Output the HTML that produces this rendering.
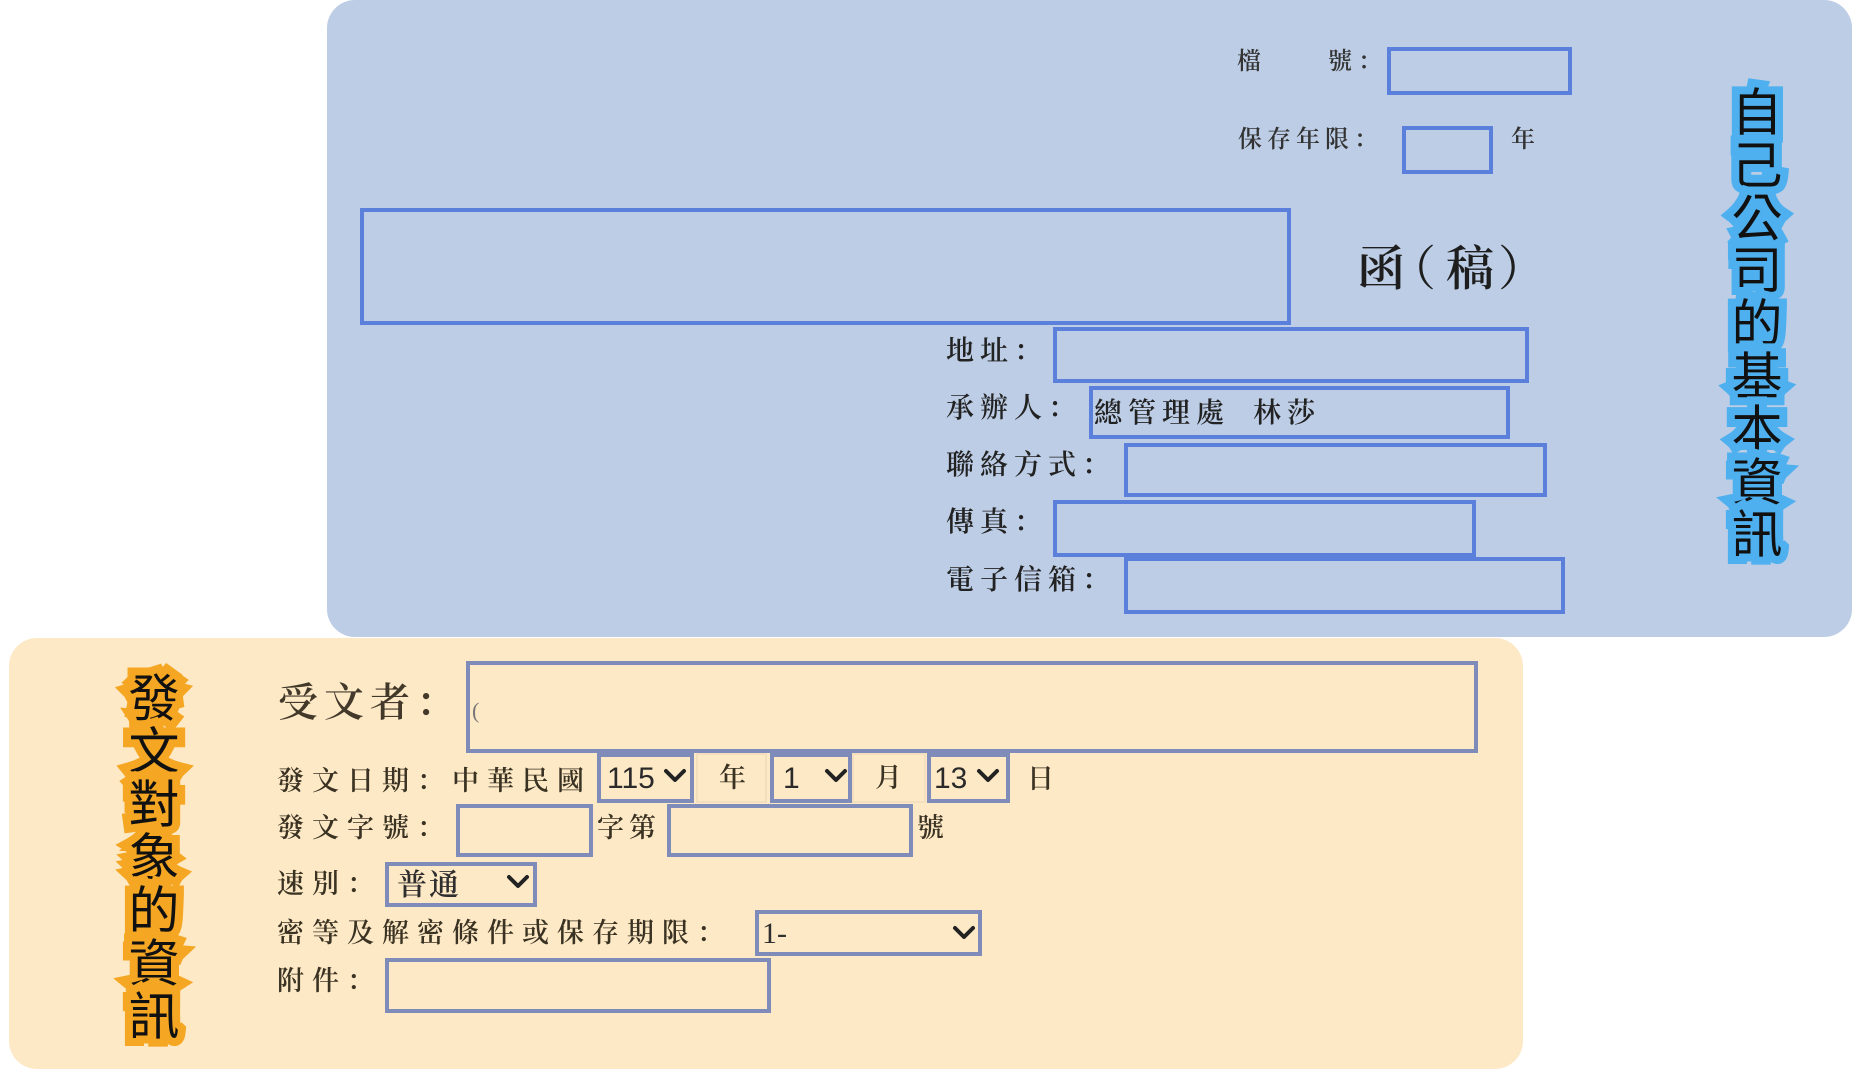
<!DOCTYPE html>
<html>
<head>
<meta charset="utf-8">
<style>
  html,body{margin:0;padding:0;}
  body{width:1864px;height:1080px;position:relative;overflow:hidden;background:#ffffff;}
  .panel{position:absolute;box-sizing:border-box;}
  .b{position:absolute;box-sizing:border-box;border:4px solid #5b80dc;}
  .o{position:absolute;box-sizing:border-box;border:4px solid #7f8bb8;}
  .lt{position:absolute;box-sizing:border-box;border:2px solid #f3dfbd;}
  .t{position:absolute;white-space:nowrap;line-height:1;
     font-family:"Liberation Serif","Noto Serif CJK SC",serif;}
  .bl{font-size:28px;letter-spacing:6px;color:#222222;font-weight:600;}
  .sm{font-size:24px;letter-spacing:5px;color:#333333;font-weight:600;}
  .ol{font-size:27px;letter-spacing:8px;color:#3a3222;font-weight:600;}
  .num{position:absolute;white-space:nowrap;line-height:1;font-family:"Liberation Sans",sans-serif;font-size:30px;color:#2a2a2a;}
</style>
</head>
<body>

<!-- Blue panel -->
<div class="panel" style="left:327px;top:0;width:1525px;height:637px;background:#bccde5;border-radius:28px;"></div>

<!-- Orange panel -->
<div class="panel" style="left:9px;top:638px;width:1514px;height:431px;background:#fde9c6;border-radius:28px;"></div>

<!-- ===== Blue panel content ===== -->
<div class="t sm" style="left:1237px;top:50px;">檔</div>
<div class="t sm" style="left:1328px;top:50px;">號</div>
<div class="t sm" style="left:1358px;top:50px;">：</div>
<div class="b" style="left:1387px;top:47px;width:185px;height:48px;"></div>

<div class="t sm" style="left:1238px;top:128px;">保存年限：</div>
<div class="b" style="left:1402px;top:126px;width:91px;height:48px;"></div>
<div class="t sm" style="left:1511px;top:128px;">年</div>

<div class="b" style="left:360px;top:208px;width:931px;height:117px;"></div>

<div class="t" style="left:1357px;top:246px;font-size:48px;color:#1e1e1e;font-weight:600;">函</div>
<div class="t" style="left:1388px;top:246px;font-size:48px;color:#1e1e1e;">（</div>
<div class="t" style="left:1446px;top:246px;font-size:48px;color:#1e1e1e;font-weight:600;">稿</div>
<div class="t" style="left:1498px;top:246px;font-size:48px;color:#1e1e1e;">）</div>

<div class="t bl" style="left:946px;top:338px;">地址：</div>
<div class="b" style="left:1053px;top:327px;width:476px;height:56px;"></div>

<div class="t bl" style="left:946px;top:395px;">承辦人：</div>
<div class="b" style="left:1089px;top:386px;width:421px;height:53px;"></div>
<div class="t bl" style="left:1094px;top:400px;">總管理處</div>
<div class="t bl" style="left:1253px;top:400px;">林莎</div>

<div class="t bl" style="left:946px;top:452px;">聯絡方式：</div>
<div class="b" style="left:1124px;top:443px;width:423px;height:54px;"></div>

<div class="t bl" style="left:946px;top:509px;">傳真：</div>
<div class="b" style="left:1053px;top:500px;width:423px;height:57px;"></div>

<div class="t bl" style="left:946px;top:567px;">電子信箱：</div>
<div class="b" style="left:1124px;top:557px;width:441px;height:57px;"></div>

<!-- ===== Orange panel content ===== -->
<div class="t" style="left:278px;top:683px;font-size:40px;letter-spacing:6px;color:#43392a;font-weight:600;">受文者：</div>
<div class="o" style="left:466px;top:661px;width:1012px;height:92px;"></div>
<div class="t" style="left:472px;top:700px;font-size:22px;color:#777;">(</div>

<div class="t ol" style="left:277px;top:768px;">發文日期：中華民國</div>
<div class="o" style="left:597px;top:753px;width:97px;height:50px;"></div>
<div class="num" style="left:607px;top:764px;">115</div>
<div class="lt" style="left:696px;top:753px;width:71px;height:50px;"></div>
<div class="t ol" style="left:719px;top:765px;">年</div>
<div class="o" style="left:770px;top:753px;width:82px;height:50px;"></div>
<div class="num" style="left:783px;top:764px;">1</div>
<div class="lt" style="left:852px;top:753px;width:74px;height:50px;"></div>
<div class="t ol" style="left:875px;top:765px;">月</div>
<div class="o" style="left:927px;top:753px;width:83px;height:50px;"></div>
<div class="num" style="left:934px;top:764px;">13</div>
<div class="t ol" style="left:1027px;top:766px;">日</div>

<div class="t ol" style="left:277px;top:815px;">發文字號：</div>
<div class="o" style="left:456px;top:804px;width:137px;height:53px;"></div>
<div class="t ol" style="left:597px;top:815px;letter-spacing:5px;">字第</div>
<div class="o" style="left:667px;top:804px;width:246px;height:53px;"></div>
<div class="t ol" style="left:917px;top:815px;">號</div>

<div class="t ol" style="left:277px;top:871px;">速別：</div>
<div class="o" style="left:385px;top:862px;width:152px;height:45px;"></div>
<div class="t" style="left:397px;top:871px;font-size:30px;letter-spacing:2px;color:#2e2e2e;font-weight:600;">普通</div>

<div class="t ol" style="left:277px;top:920px;">密等及解密條件或保存期限：</div>
<div class="o" style="left:755px;top:910px;width:227px;height:46px;"></div>
<div class="t" style="left:762px;top:919px;font-size:30px;color:#2e2e2e;">1-</div>

<div class="t ol" style="left:277px;top:968px;">附件：</div>
<div class="o" style="left:385px;top:958px;width:386px;height:55px;"></div>

<!-- Chevrons + vertical outlined labels -->
<svg width="1864" height="1080" style="position:absolute;left:0;top:0;" xmlns="http://www.w3.org/2000/svg">
  <g fill="none" stroke="#222" stroke-width="4" stroke-linecap="round" stroke-linejoin="round">
    <polyline points="666,771 675,780 684,771"/>
    <polyline points="827,771 836,780 845,771"/>
    <polyline points="979,771 988,780 997,771"/>
    <polyline points="509,877 518,886 527,877"/>
    <polyline points="955,928 964,937 973,928"/>
  </g>

  <g font-family="'Liberation Sans','Noto Sans CJK TC',sans-serif" font-size="51" text-anchor="middle"
     dominant-baseline="central" stroke="#4fb0f0" stroke-width="16" stroke-linejoin="miter" stroke-miterlimit="3"
     paint-order="stroke" fill="#111">
    <text x="1757" y="113">自</text>
    <text x="1757" y="166">己</text>
    <text x="1757" y="219">公</text>
    <text x="1757" y="271">司</text>
    <text x="1757" y="324">的</text>
    <text x="1757" y="377">基</text>
    <text x="1757" y="430">本</text>
    <text x="1757" y="483">資</text>
    <text x="1757" y="535">訊</text>
  </g>

  <g font-family="'Liberation Sans','Noto Sans CJK TC',sans-serif" font-size="51" text-anchor="middle"
     dominant-baseline="central" stroke="#f5a623" stroke-width="16" stroke-linejoin="miter" stroke-miterlimit="3"
     paint-order="stroke" fill="#111">
    <text x="154" y="699">發</text>
    <text x="154" y="752">文</text>
    <text x="154" y="805">對</text>
    <text x="154" y="858">象</text>
    <text x="154" y="911">的</text>
    <text x="154" y="964">資</text>
    <text x="154" y="1017">訊</text>
  </g>
</svg>

</body>
</html>
